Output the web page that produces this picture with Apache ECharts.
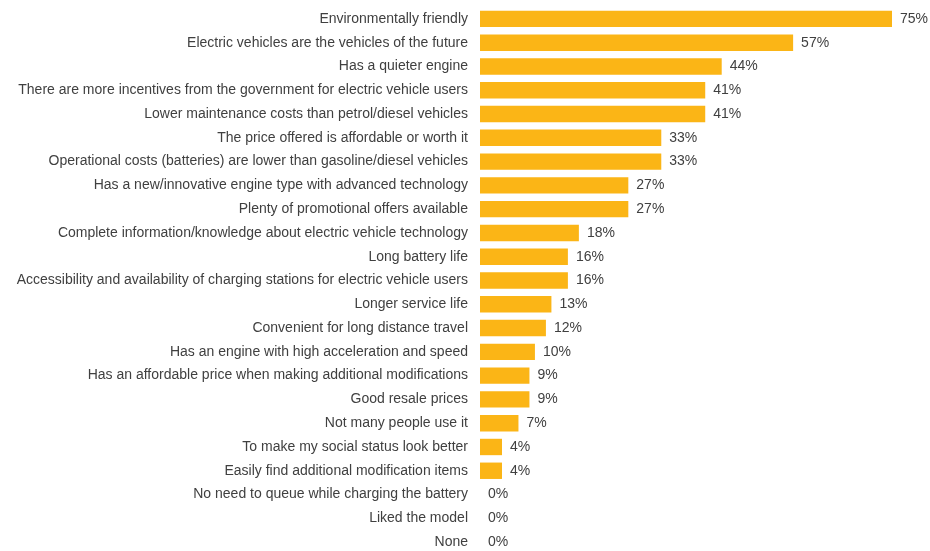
<!DOCTYPE html>
<html><head><meta charset="utf-8">
<script src="https://cdn.jsdelivr.net/npm/echarts@6/dist/echarts.min.js"></script>
<style>html,body{margin:0;padding:0;background:#fff}#c{width:930px;height:551px}</style>
</head><body><div id="c"></div>
<script>
const categories = [
  "Environmentally friendly",
  "Electric vehicles are the vehicles of the future",
  "Has a quieter engine",
  "There are more incentives from the government for electric vehicle users",
  "Lower maintenance costs than petrol/diesel vehicles",
  "The price offered is affordable or worth it",
  "Operational costs (batteries) are lower than gasoline/diesel vehicles",
  "Has a new/innovative engine type with advanced technology",
  "Plenty of promotional offers available",
  "Complete information/knowledge about electric vehicle technology",
  "Long battery life",
  "Accessibility and availability of charging stations for electric vehicle users",
  "Longer service life",
  "Convenient for long distance travel",
  "Has an engine with high acceleration and speed",
  "Has an affordable price when making additional modifications",
  "Good resale prices",
  "Not many people use it",
  "To make my social status look better",
  "Easily find additional modification items",
  "No need to queue while charging the battery",
  "Liked the model",
  "None"
];
const values = [75, 57, 44, 41, 41, 33, 33, 27, 27, 18, 16, 16, 13, 12, 10, 9, 9, 7, 4, 4, 0, 0, 0];

const chart = echarts.init(document.getElementById('c'));
chart.setOption({
  animation: false,
  textStyle: { fontFamily: 'Liberation Sans, Arial, sans-serif' },
  grid: { left: 480, right: 38, top: 7, height: 547, containLabel: false, outerBoundsMode: 'none' },
  xAxis: { type: 'value', min: 0, max: 75, show: false },
  yAxis: {
    type: 'category', inverse: true, data: categories,
    axisLine: { show: false }, axisTick: { show: false }, splitLine: { show: false },
    axisLabel: { color: '#404040', fontSize: 14, margin: 12, fontFamily: 'Liberation Sans, Arial, sans-serif' }
  },
  series: [{
    type: 'bar', data: values, barCategoryGap: '31%',
    itemStyle: { color: '#FBB516' },
    label: { show: true, position: 'right', distance: 8, color: '#404040', fontSize: 14,
      fontFamily: 'Liberation Sans, Arial, sans-serif', formatter: p => p.value + '%' }
  }]
});
</script></body></html>
